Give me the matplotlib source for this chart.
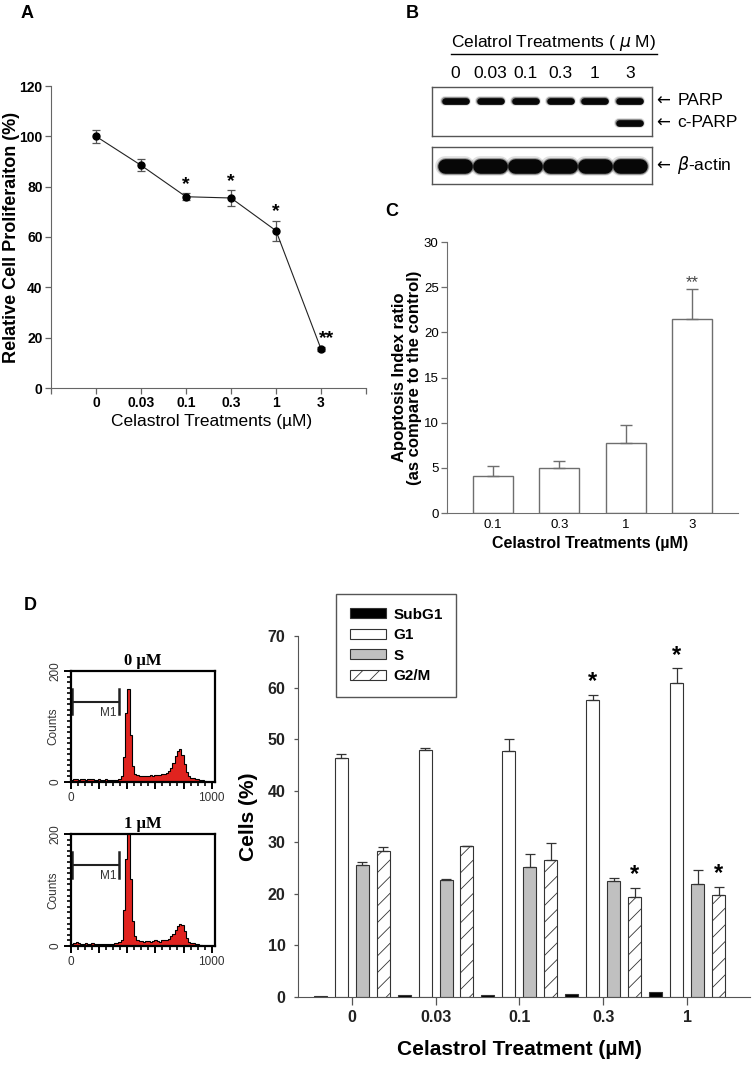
import numpy as np
import matplotlib.pyplot as plt
from matplotlib import font_manager
from matplotlib.lines import Line2D

names = {f.name for f in font_manager.fontManager.ttflist}
SANS = 'Liberation Sans'
NARROW = 'Liberation Sans Narrow' if 'Liberation Sans Narrow' in names else SANS
SERIF = 'Liberation Serif'
plt.rcParams['font.family'] = [SANS, 'DejaVu Sans']
plt.rcParams['hatch.linewidth'] = 0.6
plt.rcParams['mathtext.fontset'] = 'dejavusans'

W, H = 755, 1081


def box(l, t, r, b):
    # pixel box -> figure fraction
    return [l / W, 1 - b / H, (r - l) / W, (b - t) / H]


# ---- A: proliferation ----
prolif_doses = ['0', '0.03', '0.1', '0.3', '1', '3']
prolif_mean = [100, 88.5, 76, 75.5, 62.5, 15.5]
prolif_err = [2.5, 2.3, 1.3, 3.0, 4.0, 0.6]
prolif_sig = ['', '', '*', '*', '*', '**']

# ---- B: western blot ----
blot_doses = ['0', '0.03', '0.1', '0.3', '1', '3']
parp_band = [1, 1, 1, 1, 1, 1]
cparp_band = [0, 0, 0, 0, 0, 1]
actin_band = [1, 1, 1, 1, 1, 1]

# ---- C: apoptosis index ----
apo_doses = ['0.1', '0.3', '1', '3']
apo_mean = [4.05, 4.95, 7.7, 21.45]
apo_err = [1.15, 0.8, 2.0, 3.4]
apo_sig = ['', '', '', '**']

# ---- D: cell cycle ----
cc_doses = ['0', '0.03', '0.1', '0.3', '1']
phases = ['SubG1', 'G1', 'S', 'G2/M']
subg1 = [0.25, 0.35, 0.4, 0.65, 0.9]
g1 = [46.4, 47.9, 47.7, 57.6, 60.8]
g1_err = [0.7, 0.4, 2.3, 0.9, 2.9]
s_phase = [25.6, 22.6, 25.3, 22.5, 22.0]
s_err = [0.5, 0.3, 2.4, 0.6, 2.6]
g2m = [28.4, 29.3, 26.6, 19.4, 19.7]
g2m_err = [0.6, 0.05, 3.3, 1.7, 1.6]
g1_sig = ['', '', '', '*', '*']
g2m_sig = ['', '', '', '*', '*']

# flow histograms, 16-channel bins
hist_edges = np.arange(0, 1025, 16)
hist_0uM = [4, 6, 5, 3, 5, 6, 4, 5, 6, 5, 4, 3, 5, 4, 4, 5, 3, 4, 3, 3, 4, 6,
            10, 45, 125, 168, 85, 28, 15,
            12, 11, 10, 11, 10, 11, 12, 11, 12, 13, 13, 14,
            15, 17, 20, 26,
            34, 46, 55, 60, 48, 32, 18, 10,
            8, 7, 6, 5, 4, 3, 2,
            0, 0, 0, 0]
hist_1uM = [3, 5, 8, 6, 4, 4, 5, 4, 4, 5, 4, 4, 4, 3, 4, 4, 4, 3, 4, 5, 5, 7,
            10, 65, 155, 230, 120, 45, 18,
            10, 9, 9, 8, 9, 9, 8, 9, 10, 9, 8, 10, 10, 11,
            13, 17, 22,
            29, 35, 40, 37, 27, 15, 8,
            6, 5, 4, 3, 2,
            0, 0, 0, 0, 0, 0]
m1_range = [10, 340]

fig = plt.figure(figsize=(W / 100, H / 100), dpi=100)


def style_labels(ax, family, weight, size, color='black'):
    for t in ax.get_xticklabels() + ax.get_yticklabels():
        t.set_fontfamily(family)
        t.set_fontweight(weight)
        t.set_fontsize(size)
        t.set_color(color)


# ================= A =================
axa = fig.add_axes(box(51, 86, 366, 388))
xa = np.arange(1, len(prolif_doses) + 1)
axa.errorbar(xa, prolif_mean, yerr=prolif_err, fmt='none', ecolor='#555555',
             elinewidth=0.9, capsize=3, capthick=0.9)
axa.plot(xa, prolif_mean, color='#222222', lw=0.8, marker='o', ms=5,
         mfc='black', mec='black')
for x, m, e, s in zip(xa, prolif_mean, prolif_err, prolif_sig):
    if s:
        axa.text(x + (0.12 if len(s) > 1 else 0), m + e + 3.5, s, ha='center',
                 va='center', fontsize=14, fontweight='bold')
axa.set_xlim(0, 7)
axa.set_ylim(0, 120)
axa.set_xticks(xa, prolif_doses)
axa.set_xticks([0, 7], minor=True)
axa.set_yticks(range(0, 121, 20))
for sp in ['top', 'right']:
    axa.spines[sp].set_visible(False)
for sp in ['left', 'bottom']:
    axa.spines[sp].set_color('#666666')
axa.tick_params(which='both', direction='out', length=4, width=0.9,
                color='#666666', pad=2)
style_labels(axa, NARROW, 'bold', 10)
axa.set_ylabel('Relative Cell Proliferaiton (%)', fontsize=13, fontweight='bold')
axa.yaxis.set_label_coords(-0.098, 0.5)
axa.set_xlabel('Celastrol Treatments (\u00b5M)', fontsize=12.5, fontfamily=NARROW)
axa.xaxis.set_label_coords(0.511, -0.085)

# ================= B =================
lane_x = np.arange(len(blot_doses))
blot1 = fig.add_axes(box(432, 87, 652, 136))
blot2 = fig.add_axes(box(432, 147, 652, 184))
for ax in (blot1, blot2):
    ax.set_xlim(-0.66, 5.63)
    ax.set_ylim(1, 0)
    ax.set_yticks([])
    for sp in ax.spines.values():
        sp.set_color('#555555')
        sp.set_linewidth(1)
blot2.set_xticks([])
blot1.xaxis.tick_top()
blot1.set_xticks(lane_x, blot_doses)
blot1.tick_params(axis='x', length=0, pad=4, labelsize=12.5)


def band(ax, x, y, level, half, lw, halo=(1.5, 1.2)):
    if level <= 0:
        return
    for k, a in [(halo[0], 0.12), (halo[1], 0.35), (1.0, 0.95)]:
        ax.plot([x - half, x + half], [y, y], color='black', lw=lw * k,
                alpha=a * level, solid_capstyle='round')


for x, p, c, a in zip(lane_x, parp_band, cparp_band, actin_band):
    band(blot1, x, 0.28, p, 0.3, 4.8)
    band(blot1, x, 0.73, c, 0.3, 4.8)
    band(blot2, x, 0.5, a, 0.28, 10.5, halo=(1.35, 1.15))


def blot_label(ax, y, label):
    tr = ax.get_yaxis_transform()
    ax.text(1.02, y, '\u2190', transform=tr, ha='left', va='center', fontsize=12,
            family='DejaVu Sans', clip_on=False)
    ax.text(1.115, y, label, transform=tr, ha='left', va='center', fontsize=12.5,
            clip_on=False)


blot_label(blot1, 0.28, 'PARP')
blot_label(blot1, 0.73, 'c-PARP')
blot_label(blot2, 0.5, '$\\beta$-actin')

btitle = fig.text(554 / W, 1 - 43 / H, 'Celatrol Treatments ( $\\mu$ M)', ha='center',
                  va='center', fontsize=12.5)

# ================= C =================
axc = fig.add_axes(box(447, 242, 738, 513))
xc = np.arange(len(apo_doses))
axc.bar(xc, apo_mean, 0.6, color='white', edgecolor='#6e6e6e', lw=1)
axc.errorbar(xc, apo_mean, yerr=[np.zeros(len(apo_err)), apo_err], fmt='none',
             ecolor='#6e6e6e', elinewidth=1, capsize=4, capthick=1)
for x, m, e, s in zip(xc, apo_mean, apo_err, apo_sig):
    if s:
        axc.text(x, m + e + 0.6, s, ha='center', va='center', fontsize=12,
                 color='#444444')
axc.set_xlim(-0.69, 3.69)
axc.set_ylim(0, 30)
axc.set_xticks(xc, apo_doses)
axc.set_yticks(range(0, 31, 5))
for sp in ['top', 'right']:
    axc.spines[sp].set_visible(False)
for sp in ['left', 'bottom']:
    axc.spines[sp].set_color('#6e6e6e')
axc.tick_params(axis='y', direction='out', length=4, width=0.9, color='#6e6e6e', pad=2)
axc.tick_params(axis='x', length=0, pad=4)
style_labels(axc, NARROW, 'normal', 9.5)
axc.set_ylabel('Apoptosis Index ratio\n(as compare to the control)', fontsize=12,
               fontweight='bold', linespacing=1.0)
axc.yaxis.set_label_coords(-0.085, 0.5)
axc.set_xlabel('Celastrol Treatments (\u00b5M)', fontsize=11.5, fontweight='bold',
               fontfamily=NARROW)
axc.xaxis.set_label_coords(0.49, -0.085)

# ================= D histograms =================
def histo(rect, counts, title):
    ax = fig.add_axes(box(*rect))
    ax.stairs(counts, hist_edges, fill=True, color='#e0231f')
    ax.stairs(counts, hist_edges, color='black', lw=0.8)
    ax.set_xlim(0, 1023)
    ax.set_ylim(0, 200)
    for sp in ax.spines.values():
        sp.set_linewidth(1.6)
    ax.set_xticks([0, 200, 400, 600, 800, 1000], ['0', '', '', '', '', '1000'])
    ax.set_xticks(np.arange(0, 1001, 50), minor=True)
    ax.set_yticks([0, 200])
    ax.set_yticks(np.arange(0, 201, 10), minor=True)
    ax.tick_params(which='major', direction='out', length=5, width=1.4, pad=2,
                   labelsize=8.5, labelcolor='#333333')
    ax.tick_params(which='minor', direction='out', length=3, width=1.2)
    for t in ax.get_yticklabels():
        t.set_rotation(90)
        t.set_va('center')
    ax.set_ylabel('Counts', fontsize=8.5, color='#333333')
    ax.yaxis.set_label_coords(-0.08, 0.5)
    ax.set_title(title, fontfamily=SERIF, fontweight='bold', fontsize=12, pad=4)
    ax.plot(m1_range, [145, 145], color='#222222', lw=1.5)
    for x in m1_range:
        ax.plot([x, x], [122, 168], color='#222222', lw=1.8)
    ax.text(m1_range[1] - 15, 136, 'M1', ha='right', va='top', fontsize=8.5,
            color='#333333')
    return ax


histo((71, 671, 215, 782), hist_0uM, '0 \u00b5M')
histo((71, 834, 215, 946), hist_1uM, '1 \u00b5M')

# ================= D bars =================
axd = fig.add_axes(box(298, 636, 750, 997))
xd = np.arange(len(cc_doses))
bw = 0.155
offs = np.array([-1.5, -0.5, 0.5, 1.5]) * 0.25
series = [(subg1, None, 'black', ''), (g1, g1_err, 'white', ''),
          (s_phase, s_err, '#c0c0c0', ''), (g2m, g2m_err, 'white', '//')]
handles = []
for (vals, err, fc, hatch), off, name in zip(series, offs, phases):
    b = axd.bar(xd + off, vals, bw, color=fc, edgecolor='#333333', lw=0.8,
                hatch=hatch, label=name)
    handles.append(b)
    if err is not None:
        axd.errorbar(xd + off, vals, yerr=[np.zeros(len(vals)), err], fmt='none',
                     ecolor='#333333', elinewidth=0.9, capsize=3.5, capthick=0.9)
for vals, err, sig, off in [(g1, g1_err, g1_sig, offs[1]), (g2m, g2m_err, g2m_sig, offs[3])]:
    for x, m, e, s in zip(xd, vals, err, sig):
        if s:
            axd.text(x + off, m + e + 2.6, s, ha='center', va='center',
                     fontsize=17, fontweight='bold')
axd.set_xlim(-0.64, 4.75)
axd.set_ylim(0, 70)
axd.set_xticks(xd, cc_doses)
axd.set_yticks(range(0, 71, 10))
for sp in ['top', 'right']:
    axd.spines[sp].set_visible(False)
for sp in ['left', 'bottom']:
    axd.spines[sp].set_color('#555555')
axd.tick_params(axis='y', direction='out', length=3, width=0.9, color='#555555', pad=6)
axd.tick_params(axis='x', direction='out', length=6, width=0.9, color='#555555', pad=3)
style_labels(axd, SANS, 'bold', 11.5, '#222222')
axd.set_ylabel('Cells (%)', fontsize=15, fontweight='bold')
axd.yaxis.set_label_coords(-0.088, 0.5)
axd.set_xlabel('Celastrol Treatment (\u00b5M)', fontsize=15, fontweight='bold')
axd.xaxis.set_label_coords(0.491, -0.118)

leg = fig.legend(handles, phases, loc='upper left', bbox_to_anchor=(336 / W, 1 - 594 / H),
                 frameon=True, fancybox=False, edgecolor='#555555', framealpha=1,
                 prop={'weight': 'bold', 'size': 11}, handlelength=2.35,
                 handleheight=0.65, handletextpad=0.5, labelspacing=0.42,
                 borderpad=0.9, borderaxespad=0)
leg.get_frame().set_linewidth(1)

# panel letters
for letter, (px, py) in {'A': (27, 14), 'B': (412, 13), 'C': (392, 212), 'D': (30, 606)}.items():
    fig.text(px / W, 1 - py / H, letter, ha='center', va='center', fontsize=13,
             fontweight='bold')

# underline for blot title
fig.canvas.draw()
bb = btitle.get_window_extent().transformed(fig.transFigure.inverted())
fig.add_artist(Line2D([bb.x0, bb.x1], [bb.y0 - 0.001, bb.y0 - 0.001], color='black', lw=1))

fig.savefig('out.png', dpi=100)
